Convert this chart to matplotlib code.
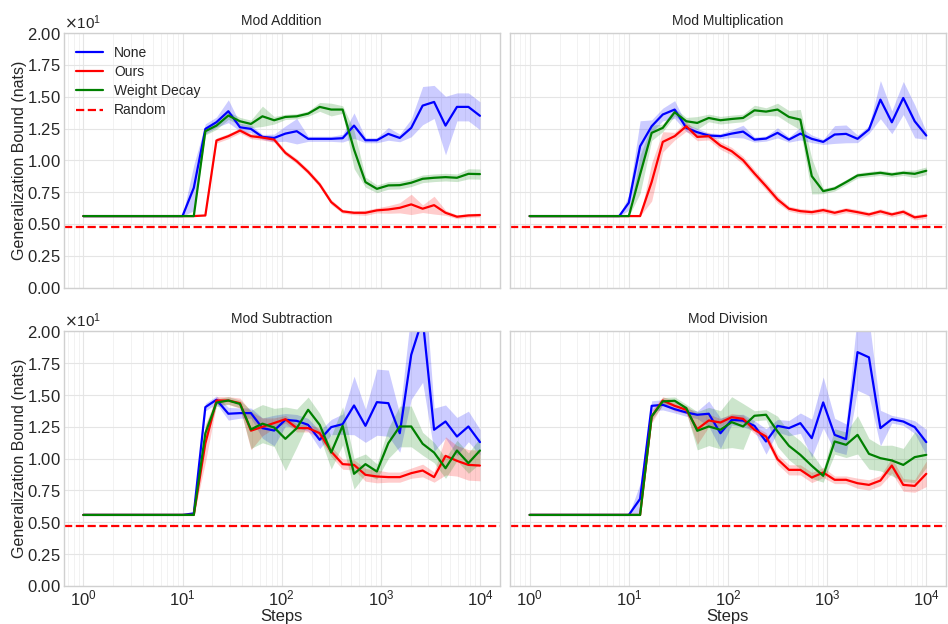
import numpy as np
import matplotlib
matplotlib.use("Agg")
import matplotlib.pyplot as plt

plt.style.use("seaborn-v0_8-whitegrid")
plt.rcParams["font.family"] = ["Liberation Sans", "DejaVu Sans"]

# training steps at which the bound was evaluated
steps = [1, 8, 10, 13, 17, 22, 29, 38, 49, 64, 84, 109, 142, 185, 242, 316,
         412, 537, 700, 913, 1191, 1553, 2026, 2642, 3446, 4494, 5862, 7645, 10000]

random_bound = 4.73

# Mod Addition
add_none = [5.62, 5.62, 5.62, 7.84, 12.47, 13.0, 13.86, 12.6, 12.47, 11.84, 11.76, 12.1, 12.29, 11.69, 11.69,
            11.69, 11.74, 12.73, 11.58, 11.58, 12.08, 11.76, 12.55, 14.3, 14.59, 12.73, 14.2, 14.2, 13.5]
add_none_sd = [0, 0, 0, 1.8, 0.4, 0.4, 0.9, 0.3, 0.3, 0.2, 0.3, 0.6, 1.0, 0.2, 0.2,
               0.2, 0.3, 1.0, 0.2, 0.2, 0.5, 0.3, 0.7, 1.5, 1.3, 2.3, 1.1, 1.1, 1.1]
add_ours = [5.62, 5.62, 5.62, 5.62, 5.67, 11.56, 11.9, 12.34, 11.9, 11.79, 11.63, 10.59, 9.93, 9.1, 8.1,
            6.72, 5.99, 5.88, 5.88, 6.07, 6.14, 6.27, 6.54, 6.2, 6.48, 5.88, 5.57, 5.67, 5.7]
add_ours_sd = [0, 0, 0, 0, 0.05, 0.2, 0.2, 0.2, 0.2, 0.2, 0.2, 0.2, 0.2, 0.2, 0.2,
               0.2, 0.15, 0.15, 0.2, 0.2, 0.3, 0.4, 0.8, 0.3, 0.7, 0.2, 0.15, 0.15, 0.15]
add_wd = [5.62, 5.62, 5.62, 5.62, 12.29, 12.73, 13.52, 13.07, 12.86, 13.46, 13.15, 13.41, 13.46, 13.67, 14.2,
          13.99, 13.99, 10.85, 8.29, 7.76, 8.03, 8.05, 8.24, 8.55, 8.63, 8.68, 8.63, 8.94, 8.92]
add_wd_sd = [0, 0, 0, 0, 0.3, 0.3, 0.3, 0.3, 0.3, 0.8, 0.3, 0.2, 0.2, 0.2, 0.35,
             0.5, 0.3, 1.5, 0.4, 0.3, 0.3, 0.3, 0.3, 0.3, 0.3, 0.3, 0.3, 0.4, 0.4]

# Mod Multiplication
mul_none = [5.62, 5.62, 6.67, 11.11, 12.68, 13.6, 13.99, 12.55, 12.21, 11.95, 11.9, 12.1, 12.26, 11.63, 11.71,
            12.16, 11.63, 12.1, 11.69, 11.45, 12.03, 12.08, 11.69, 12.42, 14.77, 12.99, 14.9, 13.07, 11.95]
mul_none_sd = [0, 0, 0.6, 2.0, 0.5, 0.5, 0.7, 0.3, 0.3, 0.2, 0.2, 0.3, 0.5, 0.2, 0.2,
               0.4, 0.2, 0.5, 0.3, 0.2, 0.7, 0.7, 0.3, 0.3, 1.5, 0.9, 1.3, 1.3, 0.3]
mul_ours = [5.62, 5.62, 5.62, 5.62, 8.3, 11.45, 11.9, 12.68, 11.84, 11.9, 11.16, 10.72, 10.01, 8.97, 7.97,
            6.93, 6.2, 6.01, 5.93, 6.09, 5.88, 6.09, 5.93, 5.75, 5.99, 5.75, 5.96, 5.52, 5.65]
mul_ours_sd = [0, 0, 0, 0, 1.5, 0.8, 0.3, 0.4, 0.3, 0.3, 0.3, 0.3, 0.3, 0.3, 0.3,
               0.3, 0.2, 0.2, 0.2, 0.2, 0.2, 0.2, 0.2, 0.2, 0.2, 0.2, 0.2, 0.2, 0.2]
mul_wd = [5.62, 5.62, 5.62, 8.9, 12.16, 12.55, 13.78, 13.07, 12.94, 13.33, 13.15, 13.25, 13.33, 13.93, 13.83,
          13.99, 13.41, 13.2, 8.76, 7.58, 7.79, 8.29, 8.81, 8.92, 9.02, 8.89, 9.02, 8.94, 9.18]
mul_wd_sd = [0, 0, 0, 1.5, 0.6, 0.3, 0.3, 0.3, 0.5, 0.3, 0.3, 0.3, 0.3, 0.4, 0.3,
             0.5, 0.5, 0.8, 1.4, 0.2, 0.2, 0.2, 0.2, 0.2, 0.2, 0.2, 0.2, 0.3, 0.3]

# Mod Subtraction
sub_none = [5.58, 5.58, 5.58, 5.7, 14.05, 14.63, 13.53, 13.58, 13.58, 12.4, 12.21, 13.05, 12.97, 12.66, 11.48,
            12.48, 12.71, 14.18, 12.58, 14.44, 14.36, 12.0, 18.16, 21.0, 12.27, 12.92, 11.74, 12.53, 11.3]
sub_none_sd = [0, 0, 0, 0.05, 0.3, 0.3, 0.5, 0.4, 0.4, 0.8, 1.2, 0.5, 0.5, 0.5, 0.7,
               0.6, 0.8, 2.3, 1.3, 2.6, 2.6, 1.5, 3.5, 5.0, 1.7, 1.3, 1.5, 1.2, 1.0]
sub_ours = [5.58, 5.58, 5.58, 5.58, 11.2, 14.57, 14.57, 14.36, 12.2, 12.5, 12.8, 13.1, 12.4, 12.4, 12.0,
            10.56, 9.57, 9.51, 8.73, 8.6, 8.55, 8.55, 8.86, 9.07, 8.55, 10.22, 9.83, 9.51, 9.46]
sub_ours_sd = [0, 0, 0, 0, 1.5, 0.3, 0.3, 0.4, 1.5, 0.7, 0.4, 0.3, 0.3, 0.3, 0.4,
               0.4, 0.4, 0.4, 0.5, 0.5, 0.4, 0.4, 0.4, 0.5, 0.4, 1.5, 1.2, 1.2, 1.2]
sub_wd = [5.58, 5.58, 5.58, 5.58, 12.0, 14.4, 14.57, 14.3, 12.3, 12.75, 12.45, 11.56, 12.4, 13.84, 12.66,
          10.48, 12.58, 8.81, 9.57, 8.99, 11.22, 12.53, 12.53, 11.17, 10.48, 9.25, 10.64, 9.65, 10.64]
sub_wd_sd = [0, 0, 0, 0, 0.6, 0.3, 0.3, 0.3, 1.5, 1.5, 1.5, 2.5, 1.5, 1.0, 0.9,
             1.3, 1.5, 1.2, 0.8, 0.6, 1.2, 1.6, 1.6, 0.9, 0.8, 0.8, 0.8, 0.8, 1.0]

# Mod Division
div_none = [5.58, 5.58, 5.58, 6.84, 14.15, 14.23, 13.89, 13.63, 13.45, 13.53, 12.0, 13.05, 12.99, 12.58, 11.35,
            12.58, 12.4, 12.79, 11.61, 14.42, 11.87, 11.53, 18.37, 17.96, 12.4, 13.1, 12.92, 12.48, 11.3]
div_none_sd = [0, 0, 0, 1.2, 0.4, 0.4, 0.3, 0.3, 0.3, 1.0, 1.2, 0.4, 0.5, 0.4, 1.0,
               0.5, 0.6, 0.8, 1.5, 2.0, 1.3, 1.2, 3.0, 3.0, 1.4, 0.3, 0.3, 0.5, 1.0]
div_ours = [5.58, 5.58, 5.58, 5.58, 13.3, 14.57, 14.15, 13.84, 12.32, 13.0, 12.84, 13.26, 13.13, 12.27, 11.74,
            9.96, 9.12, 9.12, 8.52, 8.91, 8.34, 8.34, 8.07, 7.94, 8.28, 9.46, 7.94, 7.86, 8.81]
div_ours_sd = [0, 0, 0, 0, 0.5, 0.3, 0.4, 0.3, 1.2, 0.5, 0.3, 0.3, 0.3, 0.3, 0.3,
               0.4, 0.4, 0.4, 0.4, 0.4, 0.3, 0.3, 0.4, 0.4, 0.4, 0.6, 0.5, 0.5, 1.0]
div_wd = [5.58, 5.58, 5.58, 5.58, 13.32, 14.5, 14.55, 13.97, 12.19, 12.53, 12.27, 12.87, 12.53, 13.37, 13.45,
          12.14, 11.01, 10.3, 9.44, 8.65, 11.35, 11.09, 11.87, 10.38, 10.04, 9.86, 9.51, 10.12, 10.3]
div_wd_sd = [0, 0, 0, 0, 0.3, 0.3, 0.3, 0.3, 1.5, 1.5, 1.5, 2.0, 1.8, 0.4, 0.4,
             1.2, 1.1, 1.1, 1.0, 0.5, 1.0, 1.0, 1.5, 1.2, 1.0, 1.2, 1.3, 2.0, 1.0]

tasks = [
    ("Mod Addition", [(add_none, add_none_sd), (add_ours, add_ours_sd), (add_wd, add_wd_sd)]),
    ("Mod Multiplication", [(mul_none, mul_none_sd), (mul_ours, mul_ours_sd), (mul_wd, mul_wd_sd)]),
    ("Mod Subtraction", [(sub_none, sub_none_sd), (sub_ours, sub_ours_sd), (sub_wd, sub_wd_sd)]),
    ("Mod Division", [(div_none, div_none_sd), (div_ours, div_ours_sd), (div_wd, div_wd_sd)]),
]
names = ["None", "Ours", "Weight Decay"]
colors = ["blue", "red", "green"]

fig, axes = plt.subplots(2, 2, figsize=(9.48, 6.24), dpi=100, sharex=True, sharey=True)
fig.subplots_adjust(left=0.067, right=0.998, top=0.947, bottom=0.061,
                    wspace=0.023, hspace=0.172)

x = np.array(steps, dtype=float)
for ax, (title, series) in zip(axes.flat, tasks):
    for (mean, sd), name, c in zip(series, names, colors):
        m = np.array(mean)
        s = np.array(sd)
        ax.fill_between(x, m - s, m + s, color=c, alpha=0.2, linewidth=0)
        ax.plot(x, m, color=c, linewidth=1.6, label=name)
    ax.axhline(random_bound, color="red", linestyle="--", linewidth=1.6, label="Random")
    ax.set_title(title, fontsize=10, color="#262626")
    ax.set_xscale("log")
    ax.set_ylim(0, 20)
    ax.set_yticks(np.arange(0, 20.1, 2.5))
    ax.grid(True, which="major", color="#e5e5e5", linewidth=0.8)
    ax.grid(True, which="minor", axis="x", color="#f0f0f0", linewidth=0.6)
    ax.tick_params(labelsize=12, colors="#262626", pad=2)
    for sp in ax.spines.values():
        sp.set_edgecolor("#d0d0d0")
        sp.set_linewidth(1.0)
    ax.ticklabel_format(axis="y", style="sci", scilimits=(0, 0), useMathText=True)
    ax.yaxis.get_offset_text().set_fontsize(11)

axes[0, 0].set_xlim(10 ** -0.2, 10 ** 4.2)
for ax in axes[:, 0]:
    ax.set_ylabel("Generalization Bound (nats)", fontsize=11.5, color="#262626", labelpad=0)
for ax in axes[1, :]:
    ax.set_xlabel("Steps", fontsize=12, color="#262626", labelpad=0)

axes[0, 0].legend(loc="upper left", frameon=False, fontsize=10, handlelength=1.95,
                  labelspacing=0.38)

fig.savefig("out.png", dpi=100)
